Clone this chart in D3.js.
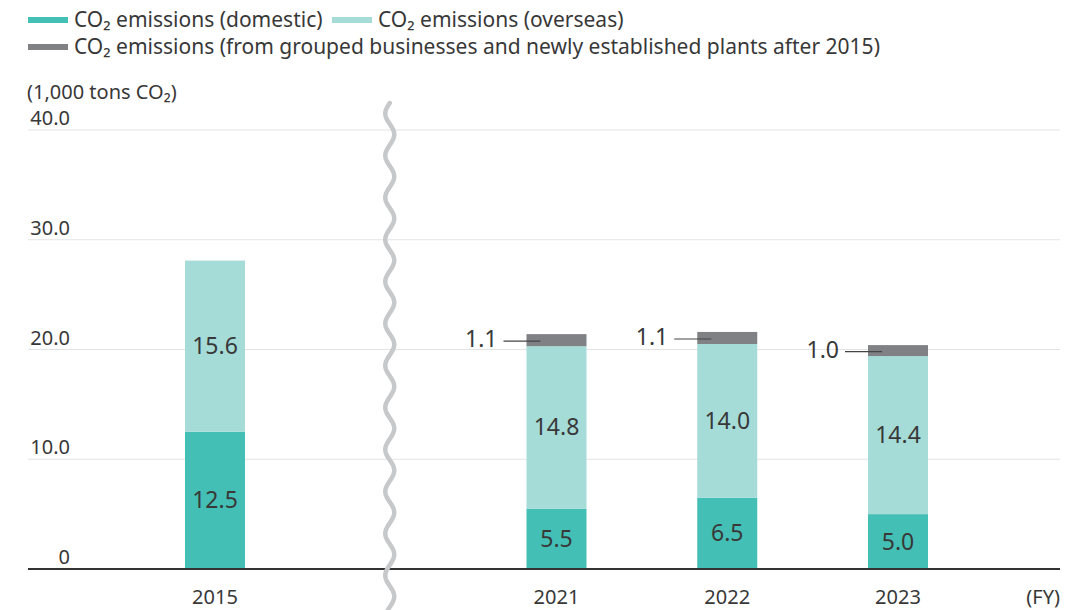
<!DOCTYPE html>
<html>
<head>
<meta charset="utf-8">
<script src="https://cdn.jsdelivr.net/npm/d3@7"></script>
<style>
  body { margin: 0; background: #fff; }
  text { font-family: "Noto Sans", "Open Sans", sans-serif; fill: #383838; }
</style>
</head>
<body>
<svg id="chart"></svg>
<script>
// data
var years = ['2015', '2021', '2022', '2023'];
var domestic = [12.5, 5.5, 6.5, 5.0];
var overseas = [15.6, 14.8, 14.0, 14.4];
var grouped = [null, 1.1, 1.1, 1.0];
var yTicks = [0, 10, 20, 30, 40];
var legendLabels = ['CO₂ emissions (domestic)', 'CO₂ emissions (overseas)',
    'CO₂ emissions (from grouped businesses and newly established plants after 2015)'];
var colors = ['#43bfb5', '#a5dcd8', '#808184'];

var W = 1075, H = 610;
var svg = d3.select('#chart').attr('width', W).attr('height', H);

// scales
var slots = ['2015', 'gap', '2021', '2022', '2023'];
var x = d3.scalePoint().domain(slots).range([215, 898]);
var y = d3.scaleLinear().domain([0, 40]).range([569, 130]);
var barW = 60;

// grid lines
svg.append('g').selectAll('line')
    .data(yTicks.filter(function(d) { return d > 0; }))
    .enter().append('line')
    .attr('x1', 28).attr('x2', 1060)
    .attr('y1', function(d) { return y(d); })
    .attr('y2', function(d) { return y(d); })
    .attr('stroke', '#e3e3e3').attr('stroke-width', 1);

// y tick labels
svg.append('g').selectAll('text')
    .data(yTicks)
    .enter().append('text')
    .attr('x', 70)
    .attr('y', function(d) { return y(d) - 5; })
    .attr('text-anchor', 'end')
    .attr('font-size', 20)
    .text(function(d) { return d === 0 ? '0' : d.toFixed(1); });

svg.append('text').attr('x', 27).attr('y', 99).attr('font-size', 20)
    .text('(1,000 tons CO₂)');

// stacked bars
var rows = years.map(function(yr, i) {
    return {year: yr, domestic: domestic[i], overseas: overseas[i], grouped: grouped[i] || 0};
});
var stack = d3.stack().keys(['domestic', 'overseas', 'grouped'])(rows);

var layers = svg.append('g').selectAll('g')
    .data(stack).enter().append('g')
    .attr('fill', function(d, i) { return colors[i]; });

layers.selectAll('rect')
    .data(function(d) { return d; })
    .enter().append('rect')
    .attr('x', function(d) { return x(d.data.year) - barW / 2; })
    .attr('width', barW)
    .attr('y', function(d) { return y(d[1]); })
    .attr('height', function(d) { return y(d[0]) - y(d[1]); });

// values inside the bars
stack.slice(0, 2).forEach(function(layer) {
    svg.append('g').selectAll('text')
        .data(layer).enter().append('text')
        .attr('x', function(d) { return x(d.data.year); })
        .attr('y', function(d) { return (y(d[0]) + y(d[1])) / 2 + 8; })
        .attr('text-anchor', 'middle')
        .attr('font-size', 23)
        .text(function(d) { return (d[1] - d[0]).toFixed(1); });
});

// callouts for the grouped segment
var topSeg = stack[2].filter(function(d) { return d[1] > d[0]; });
var call = svg.append('g').selectAll('g').data(topSeg).enter().append('g');
call.append('line')
    .attr('x1', function(d) { return x(d.data.year) - barW / 2 - 23; })
    .attr('x2', function(d) { return x(d.data.year) - barW / 2 + 14; })
    .attr('y1', function(d) { return (y(d[0]) + y(d[1])) / 2 + 1; })
    .attr('y2', function(d) { return (y(d[0]) + y(d[1])) / 2 + 1; })
    .attr('stroke', '#444').attr('stroke-width', 1.2);
call.append('text')
    .attr('x', function(d) { return x(d.data.year) - barW / 2 - 29; })
    .attr('y', function(d) { return (y(d[0]) + y(d[1])) / 2 + 7; })
    .attr('text-anchor', 'end')
    .attr('font-size', 23)
    .text(function(d) { return (d[1] - d[0]).toFixed(1); });

// baseline
svg.append('line').attr('x1', 28).attr('x2', 1060)
    .attr('y1', y(0)).attr('y2', y(0))
    .attr('stroke', '#333').attr('stroke-width', 2);

// x labels
svg.append('g').selectAll('text')
    .data(years).enter().append('text')
    .attr('x', function(d) { return x(d); })
    .attr('y', 604)
    .attr('text-anchor', 'middle')
    .attr('font-size', 20)
    .text(function(d) { return d; });
svg.append('text').attr('x', 1060).attr('y', 604).attr('text-anchor', 'end')
    .attr('font-size', 20).text('(FY)');

// axis break wave
var cx = x('gap') + 4;
var wavePts = d3.range(103, 615, 2).map(function(v) {
    return [cx + 4.5 * Math.sin((v - 103) / 42 * 2 * Math.PI + Math.PI), v];
});
svg.append('path')
    .attr('d', d3.line()(wavePts))
    .attr('fill', 'none')
    .attr('stroke', '#c6c8c9')
    .attr('stroke-width', 4.5)
    .attr('stroke-linecap', 'round');

// legend
var legendPos = [[28, 20], [332, 20], [28, 47]];
var leg = svg.append('g').selectAll('g')
    .data(legendLabels).enter().append('g')
    .attr('transform', function(d, i) { return 'translate(' + legendPos[i] + ')'; });
leg.append('rect').attr('x', 0).attr('y', -3).attr('width', 40).attr('height', 6)
    .attr('fill', function(d, i) { return colors[i]; });
leg.append('text').attr('x', 46).attr('y', 7).attr('font-size', 21)
    .text(function(d) { return d; });
</script>
</body>
</html>
